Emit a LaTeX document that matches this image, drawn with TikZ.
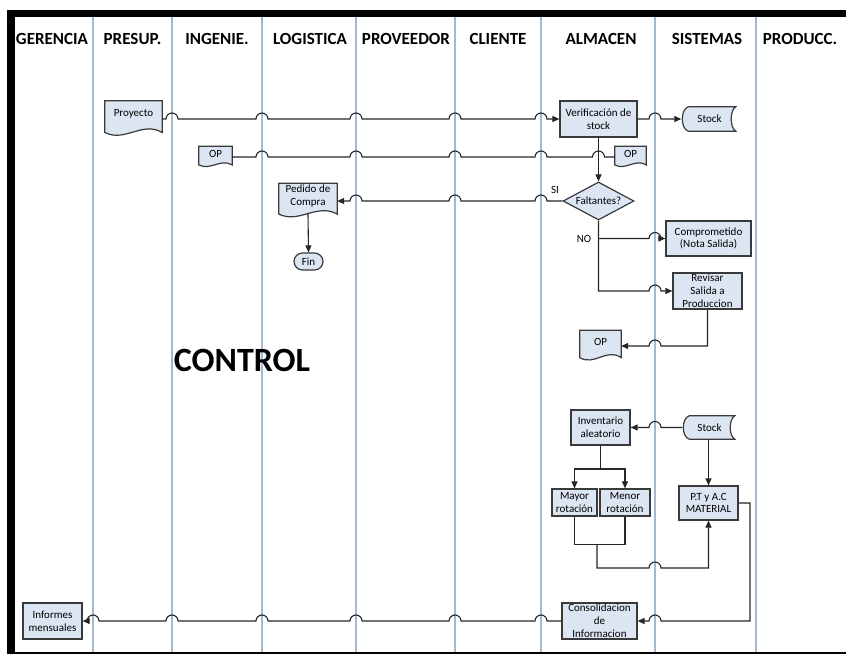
\documentclass[tikz,border=0pt]{standalone}
\usepackage{fontspec}
\setmainfont{Carlito}
\usetikzlibrary{shapes.geometric,shapes.misc,arrows.meta,calc,backgrounds}
\definecolor{lanec}{HTML}{A3B8D2}
\definecolor{fillb}{HTML}{DCE5F2}
\definecolor{edgec}{HTML}{3A3A3A}
\definecolor{connc}{HTML}{262626}
\newcommand\hr[2]{-- ({#1-6},#2) arc[start angle=180,end angle=360,radius=6]}
\newcommand\hl[2]{-- ({#1+6},#2) arc[start angle=0,end angle=-180,radius=6]}
\newcommand\docdraw[1]{\draw[shp] let \p1=(#1.north west), \p2=(#1.south east), \n1={\x2-\x1}, \n2={\y1-\y2} in (\p1) -- (\x2,\y1) -- (\x2,{\y1-0.87*\n2}) .. controls ({\x1+0.65*\n1},{\y1-0.55*\n2}) and ({\x1+0.35*\n1},{\y1-1.15*\n2}) .. (\x1,{\y1-0.87*\n2}) -- cycle;}
\newcommand\stdraw[1]{\draw[shp] let \p1=(#1.north west), \p2=(#1.south east), \n2={\y1-\y2} in ({\x1+7},\y1) -- (\x2,\y1) .. controls ({\x2-6},{\y1-0.15*\n2}) and ({\x2-6},{\y2+0.15*\n2}) .. (\x2,\y2) -- ({\x1+7},\y2) .. controls ({\x1-1},{\y2+0.1*\n2}) and ({\x1-1},{\y1-0.1*\n2}) .. cycle;}
\begin{document}
\begin{tikzpicture}[x=1pt,y=-1pt,
  proc/.style={draw=edgec, fill=fillb, line width=1.2pt, inner sep=1pt, align=center, font=\fontsize{11}{12.8}\selectfont},
  dia/.style={diamond, draw=edgec, fill=fillb, line width=1.2pt, inner sep=0pt, minimum width=71, minimum height=38, shape aspect=1.9, font=\fontsize{11}{12.8}\selectfont},
  term/.style={rounded rectangle, draw=edgec, fill=fillb, line width=1.2pt, inner sep=1pt, minimum width=31, minimum height=17, font=\fontsize{11}{12.8}\selectfont},
  docbox/.style={inner sep=0pt},
  shp/.style={draw=edgec, fill=fillb, line width=1.2pt},
  txt/.style={align=center, inner sep=0pt, font=\fontsize{11}{12.8}\selectfont},
  lbl/.style={inner sep=0pt, font=\fontsize{11}{12.8}\selectfont},
  conn/.style={draw=connc, line width=1.1pt},
  arr/.style={conn, -{Triangle[length=7pt,width=6pt]}},
  head/.style={inner sep=0pt, font=\fontsize{17}{17}\bfseries\selectfont},
  laneline/.style={draw=lanec, line width=1.6pt}
]
\useasboundingbox (0,0) rectangle (846,655);
\begin{scope}[on background layer]
  \fill[white] (0,0) rectangle (846,655);
  \foreach \x in {93,172,262,356,455,541,655,756} \draw[laneline] (\x,17) -- (\x,652);
\end{scope}
% frame
\fill[black] (7,10) rectangle (846,17.5);
\fill[black] (7,10) rectangle (14.5,653);
\draw[black, line width=1.6pt] (7,653) -- (846,653);
% headers
\node[head] (hger) at (52,39) {GERENCIA};
\node[head] (hpre) at (132.5,39) {PRESUP.};
\node[head] (hing) at (217,39) {INGENIE.};
\node[head] (hlog) at (310,39) {LOGISTICA};
\node[head] (hpro) at (406,39) {PROVEEDOR};
\node[head] (hcli) at (498,39) {CLIENTE};
\node[head] (halm) at (601,39) {ALMACEN};
\node[head] (hsis) at (707,39) {SISTEMAS};
\node[head] (hprd) at (800,39) {PRODUCC.};
% document and stored-data nodes
\node[docbox, minimum width=57, minimum height=36] (proy) at (133.5,119) {};
\node[docbox, minimum width=33, minimum height=21] (op1) at (215.5,157) {};
\node[docbox, minimum width=31, minimum height=21] (op2) at (630.5,157) {};
\node[docbox, minimum width=58, minimum height=35] (pedido) at (308,201) {};
\node[docbox, minimum width=41, minimum height=31] (op3) at (600.5,346) {};
\node[docbox, minimum width=54, minimum height=24] (stock1) at (708.5,119) {};
\node[docbox, minimum width=52, minimum height=23] (stock2) at (708.5,427.5) {};
\begin{scope}[on background layer]
  \docdraw{proy}
  \docdraw{op1}
  \docdraw{op2}
  \docdraw{pedido}
  \docdraw{op3}
  \stdraw{stock1}
  \stdraw{stock2}
\end{scope}
\node[txt] (proyT) at ([yshift=5]proy.center) {Proyecto};
\node[txt] (op1T) at ([yshift=3]op1.center) {OP};
\node[txt] (op2T) at ([yshift=3]op2.center) {OP};
\node[txt] (pedT) at ([yshift=5]pedido.center) {Pedido de\\Compra};
\node[txt] (op3T) at ([yshift=4]op3.center) {OP};
\node[txt] (st1T) at ([xshift=1]stock1.center) {Stock};
\node[txt] (st2T) at ([xshift=1]stock2.center) {Stock};
% process nodes
\node[proc, minimum width=77, minimum height=36] (verif) at (598.5,119) {Verificación de\\stock};
\node[dia] (falt) at (598.5,201) {Faltantes?};
\node[term] (fin) at (308.5,261.5) {Fin};
\node[proc, minimum width=85, minimum height=35] (comp) at (708.5,238.5) {Comprometido\\(Nota Salida)};
\node[proc, minimum width=69, minimum height=36] (revis) at (707.5,291) {Revisar\\Salida a\\Produccion};
\node[proc, minimum width=59, minimum height=35] (inv) at (600.5,427.5) {Inventario\\aleatorio};
\node[proc, minimum width=45, minimum height=27] (mayor) at (574.5,502.5) {Mayor\\rotación};
\node[proc, minimum width=50, minimum height=27] (menor) at (625,502.5) {Menor\\rotación};
\node[proc, minimum width=59, minimum height=34] (pt) at (708.5,503) {P.T y A.C\\MATERIAL};
\node[proc, minimum width=75, minimum height=36] (cons) at (599.5,621) {Consolidacion\\de\\Informacion};
\node[proc, minimum width=59, minimum height=36] (inf) at (52.5,621) {Informes\\mensuales};
% big label
\node[inner sep=0pt, font=\fontsize{34}{34}\bfseries\selectfont] (ctrl) at (242,360) {CONTROL};
% labels
\node[lbl] (si) at (555,190) {SI};
\node[lbl] (no) at (584,239) {NO};
% connectors
\draw[arr] (proy.east) \hr{172}{119} \hr{262}{119} \hr{356}{119} \hr{455}{119} \hr{541}{119} -- (verif.west);
\draw[arr] (verif.east) \hr{655}{119} -- (stock1.west);
\draw[conn] (op1.east) \hr{262}{157} \hr{356}{157} \hr{455}{157} \hr{541}{157} \hr{598.5}{157} -- (op2.west);
\draw[arr] (verif.south) -- (falt.north);
\draw[arr] (falt.west) \hl{541}{201} \hl{455}{201} \hl{356}{201} -- (pedido.east);
\draw[arr] ([yshift=5]pedido.south) -- (fin.north);
\draw[arr] (falt.south) -- (falt.south |- revis.west) \hr{655}{291} -- (revis.west);
\coordinate (nob) at (falt.south |- comp.west);
\draw[arr] (nob) \hr{655}{238.5} -- (comp.west);
\draw[arr] (revis.south) -- (revis.south |- op3.east) \hl{655}{346} -- (op3.east);
\draw[arr] (stock2.west) \hl{655}{427.5} -- (inv.east);
\draw[arr] (stock2.south) -- (pt.north);
\coordinate (split) at (600.5,469);
\draw[conn] (inv.south) -- (split);
\draw[arr] (split) -| (mayor.north);
\draw[arr] (split) -| (menor.north);
\draw[conn] (mayor.south) -- ++(0,28) -| (menor.south);
\coordinate (merge) at (597,544);
\draw[arr] (merge) -- (597,568) \hr{655}{568} -- (pt.south |- 0,568) -- (pt.south);
\draw[arr] (pt.east) -- (750,0 |- pt.east) -- (750,0 |- cons.east) \hl{655}{621} -- (cons.east);
\draw[arr] (cons.west) \hl{541}{621} \hl{455}{621} \hl{356}{621} \hl{262}{621} \hl{172}{621} \hl{93}{621} -- (inf.east);
\end{tikzpicture}
\end{document}
